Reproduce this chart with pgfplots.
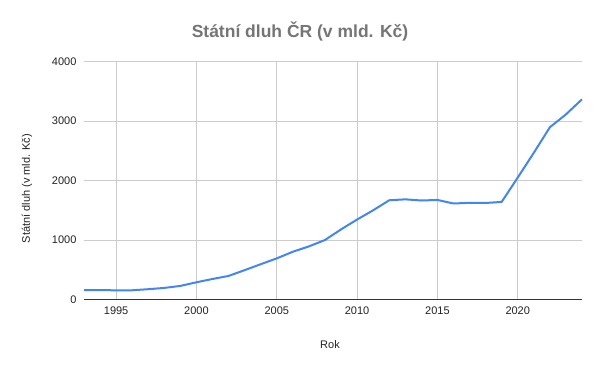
\documentclass[border=0pt]{standalone}
\usepackage{pgfplots}
\pgfplotsset{compat=1.18}
\usepackage{fontspec}
\setmainfont{Liberation Sans}
\definecolor{lineblue}{HTML}{4285F4}
\definecolor{titlegray}{HTML}{757575}
\definecolor{gridgray}{HTML}{CCCCCC}
\definecolor{ticktext}{HTML}{222222}
\definecolor{axisdark}{HTML}{333333}
\begin{document}
\begin{tikzpicture}
\useasboundingbox (0,0) rectangle (600pt,371pt);
\begin{axis}[
  at={(84pt,71.5pt)}, anchor=south west,
  scale only axis, width=498pt, height=238pt,
  xmin=1993, xmax=2024, ymin=0, ymax=4000,
  xtick={1995,2000,2005,2010,2015,2020},
  ytick={0,1000,2000,3000,4000},
  /pgf/number format/assume math mode=true,
  xticklabel style={/pgf/number format/1000 sep={}, font=\fontsize{11}{13}\selectfont, text=ticktext, yshift=-4pt},
  yticklabel style={/pgf/number format/1000 sep={}, font=\fontsize{11}{13}\selectfont, text=ticktext, xshift=-4pt},
  scaled y ticks=false,
  grid=major,
  major grid style={draw=gridgray, line width=0.8pt},
  major tick length=0pt,
  separate axis lines,
  axis x line*=bottom,
  axis y line*=left,
  x axis line style={draw=axisdark, line width=1pt, -},
  y axis line style={draw=none},
  xlabel={Rok},
  ylabel={Státní dluh (v mld. Kč)},
  xlabel style={font=\fontsize{11}{13}\selectfont, text=ticktext, at={(axis description cs:0.494,0)}, anchor=center, yshift=-45.5pt},
  ylabel style={font=\fontsize{11}{13}\selectfont, text=ticktext, at={(axis description cs:0,0.466)}, anchor=center, rotate=0, xshift=0pt, yshift=57pt},
  clip=false,
]
\addplot[lineblue, line width=2pt, line join=round] coordinates {
(1993,158.8) (1994,157.3) (1995,154.4) (1996,155.2) (1997,173.1) (1998,194.7)
(1999,228.4) (2000,289.3) (2001,345.0) (2002,395.9) (2003,493.2) (2004,592.9)
(2005,691.2) (2006,802.5) (2007,892.3) (2008,999.8) (2009,1178.2) (2010,1344.1)
(2011,1499.4) (2012,1667.6) (2013,1683.3) (2014,1663.7) (2015,1673.0) (2016,1613.4)
(2017,1624.7) (2018,1622.0) (2019,1640.2) (2020,2049.7) (2021,2465.7) (2022,2894.8)
(2023,3111.1) (2024,3365.0)
};
\end{axis}
\node[font=\fontsize{17.5}{21}\selectfont\bfseries, text=titlegray] at (300pt,340pt) {Státní dluh ČR (v mld. Kč)};
\end{tikzpicture}
\end{document}
